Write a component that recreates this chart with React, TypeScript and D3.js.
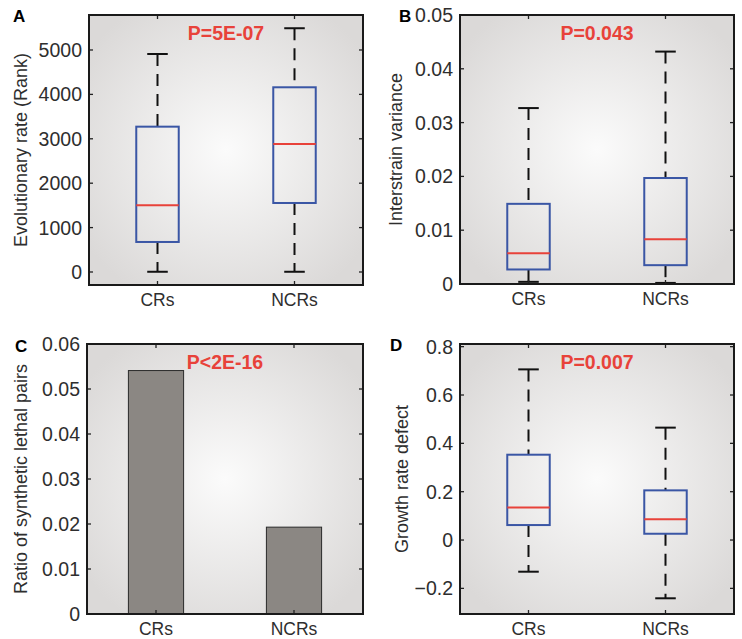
import React from "react";
import * as d3 from "d3";

const categories = ["CRs", "NCRs"];

// Panel A: Evolutionary rate (Rank) boxplot
const evoLow = [5, 5];
const evoQ1 = [676, 1554];
const evoMedian = [1502, 2883];
const evoQ3 = [3273, 4160];
const evoHigh = [4910, 5490];
const evoTicks = [0, 1000, 2000, 3000, 4000, 5000];

// Panel B: Interstrain variance boxplot
const varLow = [0.0004, 0.0002];
const varQ1 = [0.0027, 0.0035];
const varMedian = [0.0057, 0.0083];
const varQ3 = [0.0149, 0.0197];
const varHigh = [0.0327, 0.0432];
const varTicks = [0, 0.01, 0.02, 0.03, 0.04, 0.05];

// Panel C: ratio of synthetic lethal pairs
const slRatio = [0.0541, 0.0193];
const slTicks = [0, 0.01, 0.02, 0.03, 0.04, 0.05, 0.06];

// Panel D: Growth rate defect boxplot
const grLow = [-0.131, -0.241];
const grQ1 = [0.062, 0.026];
const grMedian = [0.135, 0.0855];
const grQ3 = [0.353, 0.2055];
const grHigh = [0.706, 0.465];
const grTicks = [-0.2, 0, 0.2, 0.4, 0.6, 0.8];

const pLabels = ["P=5E-07", "P=0.043", "P<2E-16", "P=0.007"];
const panelLetters = ["A", "B", "C", "D"];
const yTitles = [
  "Evolutionary rate (Rank)",
  "Interstrain variance",
  "Ratio of synthetic lethal pairs",
  "Growth rate defect",
];

const FONT = "'Liberation Sans', Arial, Helvetica, sans-serif";
const RED = "#e8423a";
const BLUE = "#3a56a5";

type Box = { low: number[]; q1: number[]; med: number[]; q3: number[]; high: number[] };

type PanelProps = {
  idx: number;
  left: number;
  right: number;
  top: number;
  bottom: number;
  domain: [number, number];
  ticks: number[];
  fmt: (v: number) => string;
  box?: Box;
  bars?: number[];
  letterX: number;
  letterY: number;
  titleX: number;
};

function Panel(p: PanelProps) {
  const x = d3.scaleLinear().domain([0.5, 2.5]).range([p.left, p.right]);
  const y = d3.scaleLinear().domain(p.domain).range([p.bottom, p.top]);
  const gid = `bg${p.idx}`;
  const boxHalf = 0.155;
  const capHalf = 0.075;
  const barHalf = 0.2;
  const tl = 4;
  const cx = (p.left + p.right) / 2;
  const cy = (p.top + p.bottom) / 2;
  return (
    <g>
      <defs>
        <radialGradient id={gid} cx="0.5" cy="0.5" r="0.62">
          <stop offset="0%" stopColor="#fbfbfb" />
          <stop offset="100%" stopColor="#dbd9d8" />
        </radialGradient>
      </defs>
      <rect x={p.left} y={p.top} width={p.right - p.left} height={p.bottom - p.top} fill={`url(#${gid})`} />
      {p.bars &&
        p.bars.map((v, i) => (
          <rect
            key={i}
            x={x(i + 1 - barHalf)}
            y={y(v)}
            width={x(i + 1 + barHalf) - x(i + 1 - barHalf)}
            height={y(0) - y(v)}
            fill="#8b8783"
            stroke="#2a2a2a"
            strokeWidth={1}
          />
        ))}
      {p.box &&
        categories.map((c, i) => {
          const b = p.box!;
          const xc = x(i + 1);
          return (
            <g key={c}>
              <line x1={xc} x2={xc} y1={y(b.high[i])} y2={y(b.q3[i])} stroke="#111" strokeWidth={2} strokeDasharray="12,8" />
              <line x1={xc} x2={xc} y1={y(b.q1[i])} y2={y(b.low[i])} stroke="#111" strokeWidth={2} strokeDasharray="12,8" />
              <line x1={x(i + 1 - capHalf)} x2={x(i + 1 + capHalf)} y1={y(b.high[i])} y2={y(b.high[i])} stroke="#111" strokeWidth={2} />
              <line x1={x(i + 1 - capHalf)} x2={x(i + 1 + capHalf)} y1={y(b.low[i])} y2={y(b.low[i])} stroke="#111" strokeWidth={2} />
              <rect
                x={x(i + 1 - boxHalf)}
                y={y(b.q3[i])}
                width={x(i + 1 + boxHalf) - x(i + 1 - boxHalf)}
                height={y(b.q1[i]) - y(b.q3[i])}
                fill="none"
                stroke={BLUE}
                strokeWidth={2}
              />
              <line x1={x(i + 1 - boxHalf)} x2={x(i + 1 + boxHalf)} y1={y(b.med[i])} y2={y(b.med[i])} stroke={RED} strokeWidth={2} />
            </g>
          );
        })}
      {/* ticks */}
      {p.ticks.map((t) => (
        <g key={t}>
          <line x1={p.left} x2={p.left + tl} y1={y(t)} y2={y(t)} stroke="#222" strokeWidth={1.3} />
          <line x1={p.right} x2={p.right - tl} y1={y(t)} y2={y(t)} stroke="#222" strokeWidth={1.3} />
          <text x={p.left - 7} y={y(t)} dy="0.36em" textAnchor="end" fontFamily={FONT} fontSize={19.5} fill="#2e2e2e">
            {p.fmt(t)}
          </text>
        </g>
      ))}
      {categories.map((c, i) => (
        <g key={c}>
          <line x1={x(i + 1)} x2={x(i + 1)} y1={p.bottom} y2={p.bottom - tl} stroke="#222" strokeWidth={1.3} />
          <line x1={x(i + 1)} x2={x(i + 1)} y1={p.top} y2={p.top + tl} stroke="#222" strokeWidth={1.3} />
          <text x={x(i + 1)} y={p.bottom + 21} textAnchor="middle" fontFamily={FONT} fontSize={17.5} fill="#2e2e2e">
            {c}
          </text>
        </g>
      ))}
      <rect x={p.left} y={p.top} width={p.right - p.left} height={p.bottom - p.top} fill="none" stroke="#1a1a1a" strokeWidth={2} />
      <text x={cx} y={p.top + 25} textAnchor="middle" fontFamily={FONT} fontWeight="bold" fontSize={19.5} fill={RED}>
        {pLabels[p.idx]}
      </text>
      <text x={p.letterX} y={p.letterY} fontFamily={FONT} fontWeight="bold" fontSize={17} fill="#000">
        {panelLetters[p.idx]}
      </text>
      <text
        transform={`translate(${p.titleX},${cy}) rotate(-90)`}
        textAnchor="middle"
        fontFamily={FONT}
        fontSize={18}
        fill="#2e2e2e"
      >
        {yTitles[p.idx]}
      </text>
    </g>
  );
}

const fmtPlain = (v: number) => (v === 0 ? "0" : String(+v.toFixed(4)));
const fmtMinus = (v: number) => {
  if (Math.abs(v) < 1e-9) return "0";
  const s = String(+v.toFixed(4));
  return s.replace("-", "\u2212");
};

export default function App() {
  return (
    <svg
      width={742}
      height={639}
      style={{ position: "absolute", left: 0, top: 0, background: "#fff" }}
    >
      <Panel
        idx={0}
        left={89}
        right={363}
        top={15}
        bottom={285}
        domain={[-293, 5788]}
        ticks={evoTicks}
        fmt={(v) => String(v)}
        box={{ low: evoLow, q1: evoQ1, med: evoMedian, q3: evoQ3, high: evoHigh }}
        letterX={13}
        letterY={22}
        titleX={27}
      />
      <Panel
        idx={1}
        left={460}
        right={734}
        top={15}
        bottom={284}
        domain={[0, 0.05]}
        ticks={varTicks}
        fmt={fmtPlain}
        box={{ low: varLow, q1: varQ1, med: varMedian, q3: varQ3, high: varHigh }}
        letterX={399}
        letterY={22}
        titleX={402}
      />
      <Panel
        idx={2}
        left={87}
        right={363}
        top={344}
        bottom={614}
        domain={[0, 0.06]}
        ticks={slTicks}
        fmt={fmtPlain}
        bars={slRatio}
        letterX={15}
        letterY={352}
        titleX={27}
      />
      <Panel
        idx={3}
        left={460}
        right={734}
        top={344}
        bottom={614}
        domain={[-0.306, 0.811]}
        ticks={grTicks}
        fmt={fmtMinus}
        box={{ low: grLow, q1: grQ1, med: grMedian, q3: grQ3, high: grHigh }}
        letterX={390}
        letterY={351}
        titleX={408}
      />
    </svg>
  );
}
